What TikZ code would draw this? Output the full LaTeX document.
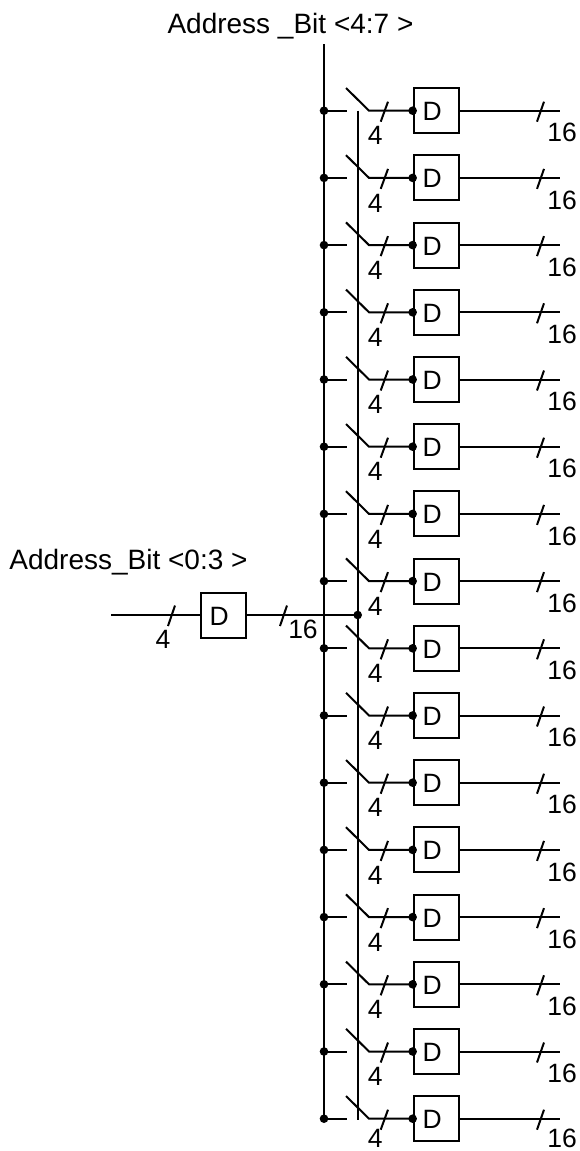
\documentclass[tikz,border=0pt]{standalone}
\usepackage{fontspec}
\setmainfont{Liberation Sans}
\tikzset{
  x=1pt,y=-1pt,
  wire/.style={line width=2pt,line cap=butt,line join=miter},
  dotmark/.style={circle,fill=black,draw=none,inner sep=0pt,minimum size=8.6pt},
  latchbox/.style={rectangle,draw=black,line width=2pt,fill=none,inner sep=0pt,minimum width=45.5pt,minimum height=45pt},
  txt/.style={inner sep=0pt,font=\fontsize{26.5pt}{28pt}\selectfont,text=black},
  title/.style={inner sep=0pt,font=\fontsize{28pt}{30pt}\selectfont,text=black}
}
\begin{document}
\begin{tikzpicture}
\useasboundingbox (0,0) rectangle (579,1151);
% Titles
\node[title] (titleB) at (290.5,26) {Address \_Bit <4:7 >};
\node[title] (titleA) at (128.5,562) {Address\_Bit <0:3 >};
% Input chain
\coordinate (inL) at (111,615);
\node[latchbox] (inBox) at (223.4,615) {};
\node[txt] (inD) at (219.3,616) {D};
\coordinate (inS1a) at (175,605.5);
\coordinate (inS1b) at (168,626);
\coordinate (inS2a) at (287,605.5);
\coordinate (inS2b) at (280,626);
\node[txt] (in4) at (163,639) {4};
\node[txt] (in16) at (303,629) {16};
\draw[wire] (inL) -- (inBox.west);
\draw[wire] (inS1a) -- (inS1b);
\draw[wire] (inS2a) -- (inS2b);
% Buses
\coordinate (busAtop) at (324,44);
\coordinate (busAbot) at (324,1119);
\coordinate (busBtop) at (357.7,110.7);
\coordinate (busBbot) at (357.7,1120);
\node[dotmark] (busBdot) at (357.7,615) {};
\draw[wire] (busAtop) -- (busAbot);
\draw[wire] (busBtop) -- (busBbot);
\draw[wire] (inBox.east) -- (busBdot.center);
% Rows
\foreach \i in {0,...,15}{
  \pgfmathsetmacro{\yy}{110.7+67.2*\i}
  \pgfmathsetmacro{\ny}{min(\yy+25,1138.5)}
  \pgfmathsetmacro{\my}{min(\yy+22,1138.5)}
  \node[dotmark] (a\i) at (324,\yy) {};
  \coordinate (stub\i) at (347,\yy);
  \coordinate (swA\i) at (346,\yy-22.7);
  \coordinate (swB\i) at (369,\yy);
  \node[latchbox] (box\i) at (436.4,\yy) {};
  \node[dotmark] (b\i) at (box\i.west) {};
  \node[txt] (d\i) at (432.3,\yy+0.8) {D};
  \coordinate (end\i) at (560,\yy);
  \coordinate (sA\i) at (388,\yy-9);
  \coordinate (sB\i) at (380.7,\yy+11);
  \coordinate (tA\i) at (544,\yy-9);
  \coordinate (tB\i) at (537,\yy+11);
  \node[txt] (n\i) at (375.3,\ny) {4};
  \node[txt] (m\i) at (562,\my) {16};
  \draw[wire] (a\i.center) -- (stub\i);
  \draw[wire] (swA\i) -- (swB\i) -- (b\i.center);
  \draw[wire] (sA\i) -- (sB\i);
  \draw[wire] (box\i.east) -- (end\i);
  \draw[wire] (tA\i) -- (tB\i);
}
\end{tikzpicture}
\end{document}
